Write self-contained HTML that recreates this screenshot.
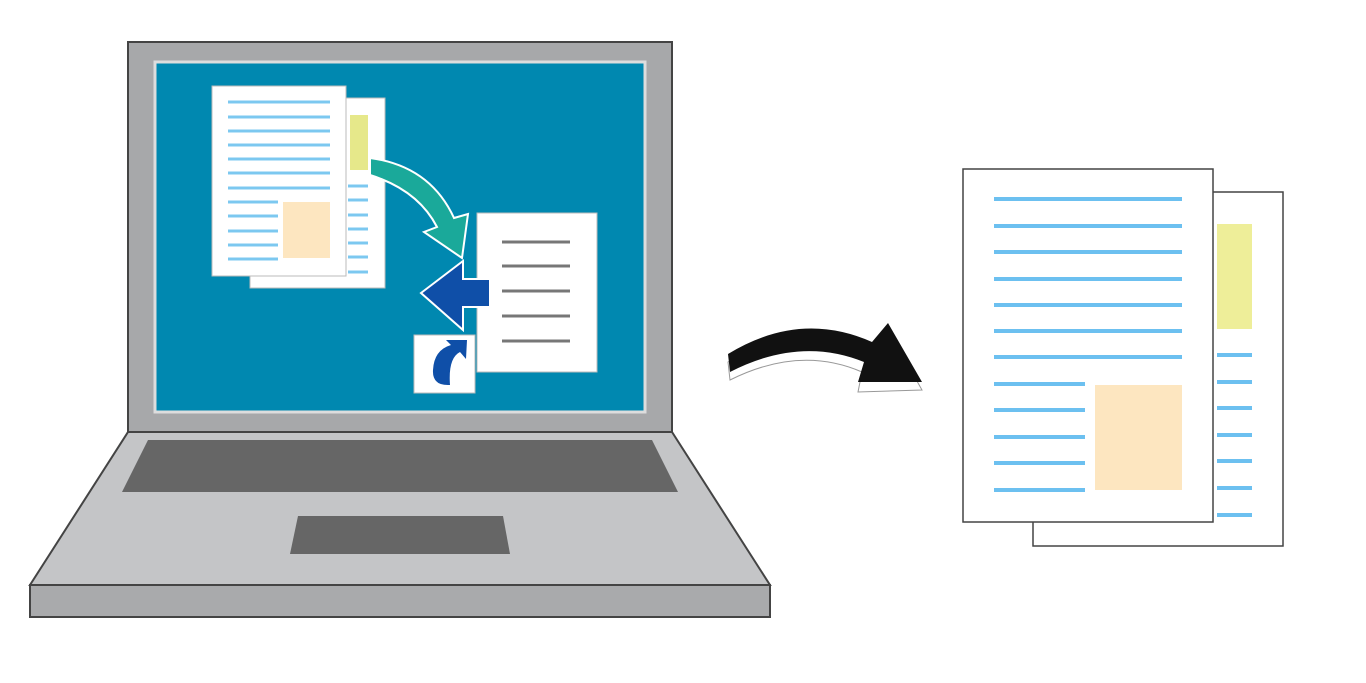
<!DOCTYPE html>
<html><head><style>html,body{margin:0;padding:0;background:#fff}svg{display:block}</style></head><body>
<svg width="1366" height="683" viewBox="0 0 1366 683" xmlns="http://www.w3.org/2000/svg">
<polygon points="128,432 672,432 770,585 30,585" fill="#c4c5c7" stroke="#444" stroke-width="2"/>
<rect x="30" y="585" width="740" height="32" fill="#a9aaac" stroke="#444" stroke-width="2"/>
<polygon points="148,440 652,440 678,492 122,492" fill="#666"/>
<polygon points="298,516 503,516 510,554 290,554" fill="#666"/>
<rect x="128" y="42" width="544" height="390" fill="#a7a8aa" stroke="#444" stroke-width="2"/>
<rect x="155" y="62" width="490" height="350" fill="#0088b0" stroke="#ddd" stroke-width="3"/>
<rect x="250" y="98" width="135" height="190" fill="#fff" stroke="#bbb"/>
<rect x="350" y="115" width="18" height="55" fill="#e6e88a"/>
<g stroke="#7cc8f0" stroke-width="3">
<line x1="348" y1="186" x2="368" y2="186"/><line x1="348" y1="200" x2="368" y2="200"/><line x1="348" y1="215" x2="368" y2="215"/><line x1="348" y1="229" x2="368" y2="229"/><line x1="348" y1="243" x2="368" y2="243"/><line x1="348" y1="257" x2="368" y2="257"/><line x1="348" y1="272" x2="368" y2="272"/>
</g>
<rect x="212" y="86" width="134" height="190" fill="#fff" stroke="#bbb"/>
<g stroke="#7cc8f0" stroke-width="3">
<line x1="228" y1="102" x2="330" y2="102"/><line x1="228" y1="117" x2="330" y2="117"/><line x1="228" y1="131" x2="330" y2="131"/><line x1="228" y1="145" x2="330" y2="145"/><line x1="228" y1="159" x2="330" y2="159"/><line x1="228" y1="173" x2="330" y2="173"/><line x1="228" y1="188" x2="330" y2="188"/>
<line x1="228" y1="202" x2="278" y2="202"/><line x1="228" y1="216" x2="278" y2="216"/><line x1="228" y1="231" x2="278" y2="231"/><line x1="228" y1="245" x2="278" y2="245"/><line x1="228" y1="259" x2="278" y2="259"/>
</g>
<rect x="283" y="202" width="47" height="56" fill="#fde6c0"/>
<rect x="477" y="213" width="120" height="159" fill="#fff" stroke="#bbb"/>
<g stroke="#777" stroke-width="3">
<line x1="502" y1="242" x2="570" y2="242"/><line x1="502" y1="266" x2="570" y2="266"/><line x1="502" y1="291" x2="570" y2="291"/><line x1="502" y1="316" x2="570" y2="316"/><line x1="502" y1="341" x2="570" y2="341"/>
</g>
<path d="M370,158 Q430,166 454,218 L468,214 L462,258 L424,232 L437,227 Q418,190 370,175 Z" fill="#1aa99a" stroke="#fff" stroke-width="2"/>
<path d="M463,261 L463,279 L490,279 L490,307 L463,307 L463,330 L421,293 Z" fill="#0f4fa8" stroke="#fff" stroke-width="2"/>
<rect x="414" y="335" width="61" height="58" fill="#fff" stroke="#bbb"/>
<path d="M433,370 Q434,350 451,345 L446,340 L467,340 L466,359 L460,352 Q448,358 450,385 Q432,386 433,370 Z" fill="#0f4fa8"/>
<path d="M730,380 Q800,345 862,372 L858,392 L922,390 L888,330 L870,352 Q800,318 728,362 Z" fill="#fff" stroke="#999" stroke-width="1"/>
<path d="M730,372 Q800,336 864,362 L858,382 L922,382 L888,323 L872,342 Q800,310 728,354 Z" fill="#111"/>
<rect x="1033" y="192" width="250" height="354" fill="#fff" stroke="#444" stroke-width="1.5"/>
<rect x="1217" y="224" width="35" height="105" fill="#eeee99"/>
<g stroke="#6cc0f0" stroke-width="4">
<line x1="1217" y1="355" x2="1252" y2="355"/><line x1="1217" y1="382" x2="1252" y2="382"/><line x1="1217" y1="408" x2="1252" y2="408"/><line x1="1217" y1="435" x2="1252" y2="435"/><line x1="1217" y1="461" x2="1252" y2="461"/><line x1="1217" y1="488" x2="1252" y2="488"/><line x1="1217" y1="515" x2="1252" y2="515"/>
</g>
<rect x="963" y="169" width="250" height="353" fill="#fff" stroke="#444" stroke-width="1.5"/>
<g stroke="#6cc0f0" stroke-width="4">
<line x1="994" y1="199" x2="1182" y2="199"/><line x1="994" y1="226" x2="1182" y2="226"/><line x1="994" y1="252" x2="1182" y2="252"/><line x1="994" y1="279" x2="1182" y2="279"/><line x1="994" y1="305" x2="1182" y2="305"/><line x1="994" y1="331" x2="1182" y2="331"/><line x1="994" y1="357" x2="1182" y2="357"/>
<line x1="994" y1="384" x2="1085" y2="384"/><line x1="994" y1="410" x2="1085" y2="410"/><line x1="994" y1="437" x2="1085" y2="437"/><line x1="994" y1="463" x2="1085" y2="463"/><line x1="994" y1="490" x2="1085" y2="490"/>
</g>
<rect x="1095" y="385" width="87" height="105" fill="#fde6c0"/>
</svg>
</body></html>
